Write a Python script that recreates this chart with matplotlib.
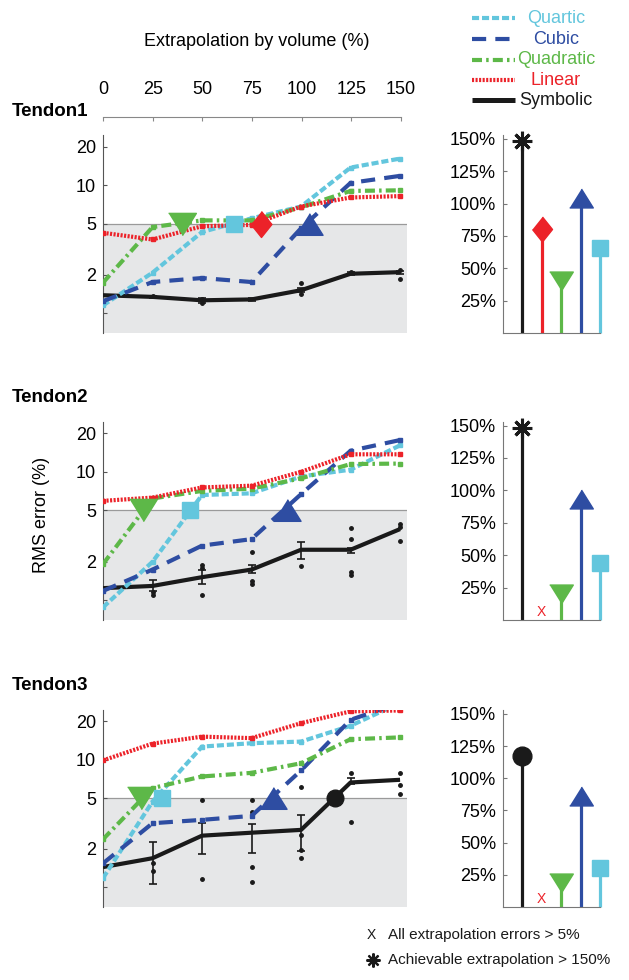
import numpy as np
import matplotlib
matplotlib.use('Agg')
import matplotlib.pyplot as plt
from matplotlib.lines import Line2D

plt.rcParams['font.family'] = ['Liberation Sans', 'DejaVu Sans']

W, H = 629, 980

volume = [0, 25, 50, 75, 100, 125, 150]
volume_labels = ['0', '25', '50', '75', '100', '125', '150']
tendons = ['Tendon1', 'Tendon2', 'Tendon3']

# RMS error (%) for each tendon (rows) over extrapolation by volume
quartic = [[1.15, 2.07, 4.3, 5.5, 6.8, 13.7, 16.1],
           [0.88, 1.99, 6.6, 6.8, 9.2, 10.4, 16.1],
           [1.18, 4.7, 12.7, 13.5, 13.9, 18.5, 28.0]]
cubic = [[1.24, 1.75, 1.88, 1.75, 4.6, 10.4, 11.8],
         [1.18, 1.73, 2.66, 2.99, 6.7, 14.6, 17.7],
         [1.54, 3.18, 3.38, 3.63, 8.25, 20.6, 28.0]]
quadratic = [[1.73, 4.7, 5.3, 5.3, 6.7, 9.0, 9.1],
             [1.91, 6.2, 7.1, 7.4, 8.9, 11.5, 11.6],
             [2.38, 6.0, 7.4, 7.9, 9.4, 14.5, 15.0]]
linear = [[4.24, 3.76, 4.77, 4.89, 6.8, 8.0, 8.2],
          [5.94, 6.3, 7.56, 7.8, 10.0, 13.7, 13.7],
          [9.9, 13.4, 15.2, 14.8, 19.4, 24.0, 24.4]]
symbolic = [[1.38, 1.34, 1.26, 1.28, 1.51, 2.03, 2.09],
            [1.24, 1.29, 1.51, 1.73, 2.47, 2.47, 3.58],
            [1.44, 1.69, 2.54, 2.68, 2.82, 6.64, 6.97]]

# error bar ends for symbolic
sym_lo = [[1.38, 1.31, 1.21, 1.25, 1.45, 1.98, 2.03],
          [1.24, 1.18, 1.33, 1.62, 2.09, 2.32, 3.58],
          [1.44, 1.07, 1.83, 1.85, 1.91, 6.47, 6.97]]
sym_hi = [[1.38, 1.37, 1.31, 1.31, 1.57, 2.08, 2.15],
          [1.24, 1.43, 1.71, 1.88, 2.82, 2.55, 3.58],
          [1.44, 2.28, 3.22, 3.15, 3.70, 7.18, 6.97]]

# individual symbolic runs
runs_x = [[25, 50, 50, 100, 100, 125, 150, 150],
          [25, 25, 50, 50, 50, 75, 75, 75, 100, 125, 125, 125, 125, 150, 150, 150],
          [25, 25, 50, 50, 75, 75, 75, 75, 100, 100, 100, 100, 125, 125, 150, 150, 150]]
runs_y = [[1.37, 1.30, 1.19, 1.73, 1.42, 2.1, 2.16, 1.86],
          [1.15, 1.10, 1.87, 1.78, 1.10, 2.38, 1.42, 1.34, 1.85, 3.64, 3.0, 1.66, 1.57, 3.92, 3.7, 2.9],
          [1.54, 1.33, 4.85, 1.16, 4.85, 3.88, 1.45, 1.09, 6.17, 2.58, 1.96, 1.69, 7.85, 3.27, 7.9, 6.37, 5.41]]

# achievable extrapolation (%) before error passes 5%
threshold = 5
reach_quartic = [66, 44, 30]
reach_cubic = [104, 93, 86]
reach_quadratic = [40, 20, 19]
reach_linear = [80, np.nan, np.nan]
reach_symbolic = [148, 148, 117]
symbolic_beyond = [True, True, False]

colors = {'Quartic': '#63C6DD', 'Cubic': '#2E4DA2', 'Quadratic': '#5DB848',
          'Linear': '#EC2229', 'Symbolic': '#1A1A1A'}
dashes = {'Quartic': (1.7, 0.7), 'Cubic': (3.4, 2.2), 'Quadratic': (2.4, 1.0, 0.6, 1.0),
          'Linear': (0.5, 0.35), 'Symbolic': None}

tri_down = [(-1, 0.8), (1, 0.8), (0, -0.8)]
tri_up = [(-1, -0.8), (1, -0.8), (0, 0.8)]
diamond = [(0, 1), (0.8, 0), (0, -1), (-0.8, 0)]


def box(x0, y0, x1, y1):
    return [x0 / W, 1 - y1 / H, (x1 - x0) / W, (y1 - y0) / H]


def style_line(name):
    kw = dict(color=colors[name], lw=3, solid_capstyle='butt', dash_capstyle='butt')
    if dashes[name] is not None:
        kw['dashes'] = dashes[name]
    return kw


fig = plt.figure(figsize=(W / 100, H / 100), dpi=100)

tops = [135, 421.7, 710]
bottoms = [333, 620, 907]

# top axis with extrapolation ticks
ax_top = fig.add_axes(box(103, 117, 401, 117.3))
ax_top.set_xlim(0, 150)
ax_top.set_ylim(0, 1)
for s in ['left', 'right', 'bottom']:
    ax_top.spines[s].set_visible(False)
ax_top.spines['top'].set_color('#888888')
ax_top.xaxis.tick_top()
ax_top.set_xticks(volume)
ax_top.set_xticklabels(volume_labels)
ax_top.tick_params(axis='x', direction='in', length=3, color='#888888', labelsize=13, pad=14)
ax_top.set_yticks([])
fig.text(257 / W, 1 - 41 / H, 'Extrapolation by volume (%)', fontsize=13, ha='center', va='center')

for i in range(3):
    ax = fig.add_axes(box(103, tops[i], 407, bottoms[i]))
    ax.set_yscale('log')
    ax.set_xlim(0, 153.5)
    ax.set_ylim(0.70, 24.6)
    ax.axhspan(0.70, threshold, color='#E6E7E8', zorder=0, lw=0)
    ax.axhline(threshold, color='#9A9A9A', lw=0.9, zorder=1)

    # error bars and runs
    for xv, lo, hi, m in zip(volume, sym_lo[i], sym_hi[i], symbolic[i]):
        if hi > lo:
            ax.errorbar([xv], [m], yerr=[[m - lo], [hi - m]], fmt='none',
                        ecolor='#1A1A1A', elinewidth=1.2, capsize=3, capthick=1.2, zorder=2)
    ax.plot(runs_x[i], runs_y[i], 'o', color='#1A1A1A', ms=2.5, zorder=2, lw=0)

    ax.plot(volume, symbolic[i], **style_line('Symbolic'), zorder=3)
    for name, data in [('Quartic', quartic), ('Cubic', cubic),
                       ('Quadratic', quadratic), ('Linear', linear)]:
        ax.plot(volume, data[i], **style_line(name), zorder=4)
        ax.plot(volume, data[i], 's', color=colors[name], ms=3.5, zorder=4)

    # where each model crosses the 5% line
    ax.plot(reach_quadratic[i], threshold, marker=tri_down, ms=20, color=colors['Quadratic'], lw=0, zorder=5)
    ax.plot(reach_quartic[i], threshold, marker='s', ms=12, color=colors['Quartic'], lw=0, zorder=5)
    ax.plot(reach_cubic[i], threshold, marker=tri_up, ms=19.5, color=colors['Cubic'], lw=0, zorder=5)
    if not np.isnan(reach_linear[i]):
        ax.plot(reach_linear[i], threshold, marker=diamond, ms=18.7, color=colors['Linear'], lw=0, zorder=5)
    if not symbolic_beyond[i]:
        ax.plot(reach_symbolic[i], threshold, marker='o', ms=12, color=colors['Symbolic'], lw=0, zorder=5)

    for s in ['top', 'right', 'bottom']:
        ax.spines[s].set_visible(False)
    ax.spines['left'].set_color('#555555')
    ax.set_xticks([])
    ax.set_yticks([1, 2, 5, 10, 20])
    ax.set_yticklabels(['', '2', '5', '10', '20'])
    ax.minorticks_off()
    ax.tick_params(axis='y', direction='in', length=3, color='#555555', labelsize=13, pad=5)

    fig.text(12 / W, 1 - (tops[i] - 24) / H, tendons[i], fontsize=13.5, fontweight='bold', va='center')

    # stem panel of achievable extrapolation
    rx = fig.add_axes(box(503, tops[i], 600, bottoms[i]))
    rx.set_xlim(0, 5)
    rx.set_ylim(0, 153)
    for s in ['top', 'right']:
        rx.spines[s].set_visible(False)
    for s in ['left', 'bottom']:
        rx.spines[s].set_color('#777777')
    rx.set_xticks([])
    rx.set_yticks([25, 50, 75, 100, 125, 150])
    rx.set_yticklabels(['25%', '50%', '75%', '100%', '125%', '150%'])
    rx.tick_params(axis='y', direction='in', length=3, color='#777777', labelsize=13, pad=5)

    stems = [('Symbolic', reach_symbolic[i], '*'), ('Linear', reach_linear[i], diamond),
             ('Quadratic', reach_quadratic[i], tri_down), ('Cubic', reach_cubic[i], tri_up),
             ('Quartic', reach_quartic[i], 's')]
    for k, (name, val, mk) in enumerate(stems):
        pos = k + 1
        if np.isnan(val):
            rx.text(pos, 6, 'X', color=colors[name], fontsize=10, ha='center', va='center')
            continue
        rx.vlines(pos, 0, val, color=colors[name], lw=2.3, zorder=2, clip_on=False)
        if name == 'Symbolic':
            if symbolic_beyond[i]:
                rx.plot(pos, val, marker=(8, 2, 0), ms=14, mew=2.2, color=colors[name], clip_on=False, zorder=3)
            else:
                rx.plot(pos, val, marker='o', ms=13.5, color=colors[name], clip_on=False, zorder=3)
        else:
            ms = {'Linear': 18, 'Quadratic': 17, 'Cubic': 17, 'Quartic': 11}[name]
            rx.plot(pos, val, marker=mk, ms=ms, color=colors[name], lw=0, clip_on=False, zorder=3)

fig.text(42 / W, 1 - 515 / H, 'RMS error (%)', fontsize=13, rotation=90, ha='center', va='center')

# model legend (top right)
legend_y = [18.5, 39.5, 60, 80.5, 100.5]
for name, y in zip(['Quartic', 'Cubic', 'Quadratic', 'Linear', 'Symbolic'], legend_y):
    kw = style_line(name)
    if name == 'Symbolic':
        kw['lw'] = 3.6
    fig.add_artist(Line2D([472 / W, 515 / W], [1 - y / H, 1 - y / H], transform=fig.transFigure, **kw))
    fig.text(556 / W, 1 - y / H, name, color=colors[name], fontsize=13, ha='center', va='center')

# symbol legend (bottom)
fig.text(371 / W, 1 - 935 / H, 'X', fontsize=10, ha='center', va='center', color='#1A1A1A')
fig.text(388 / W, 1 - 935 / H, 'All extrapolation errors > 5%', fontsize=11, va='center', color='#1A1A1A')
fig.add_artist(Line2D([372.5 / W], [1 - 960 / H], transform=fig.transFigure, marker=(8, 2, 0),
                      ms=10, mew=1.6, color='#1A1A1A', lw=0))
fig.text(388 / W, 1 - 960 / H, 'Achievable extrapolation > 150%', fontsize=11, va='center', color='#1A1A1A')

fig.savefig('out.png', dpi=100)
